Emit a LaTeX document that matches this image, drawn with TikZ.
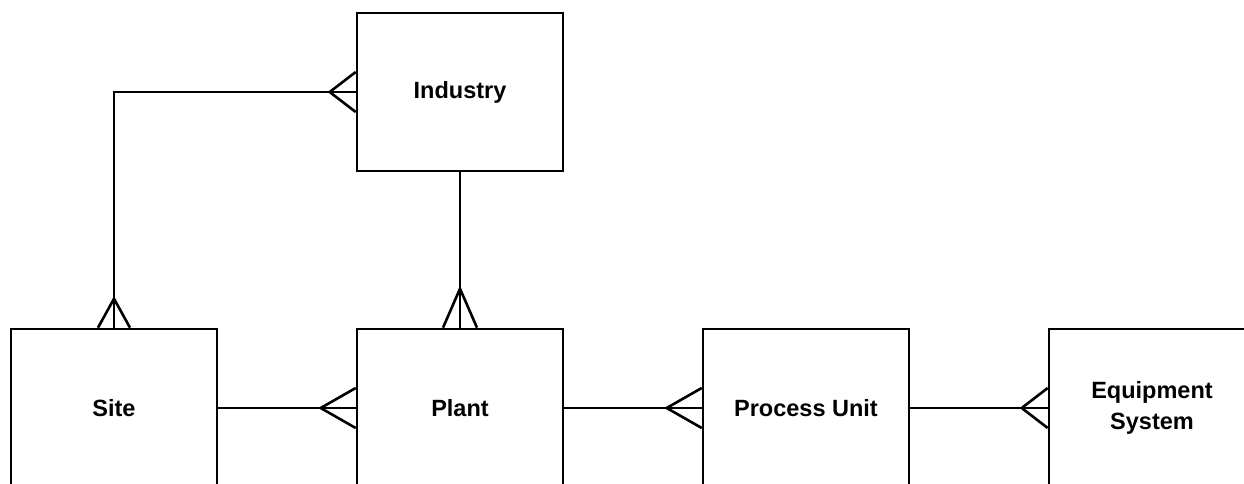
\documentclass[tikz,border=0pt]{standalone}
\usepackage{fontspec}
\setmainfont{Liberation Sans}
\usetikzlibrary{calc}
\tikzset{
  entity/.style={draw, line width=2.6pt, minimum width=206pt, minimum height=158pt,
    inner sep=0pt, align=center, font=\fontsize{23.5}{31}\selectfont\bfseries},
  link/.style={line width=2.6pt}
}
% crow's foot: anchor, tip offset, half-spread offset
\newcommand\crowfoot[3]{%
  \draw[link] ($(#1)+(#2)$) -- ($(#1)+(#3)$)
              ($(#1)+(#2)$) -- ($(#1)-(#3)$);}
\begin{document}
\begin{tikzpicture}[x=1pt,y=-1pt]
\useasboundingbox (0,0) rectangle (1244,483);
\clip (0,0) rectangle (1244,483);

\node[entity] (industry) at (460,92)   {Industry};
\node[entity] (site)     at (114,408)  {Site};
\node[entity] (plant)    at (460,408)  {Plant};
\node[entity] (unit)     at (806,408)  {Process Unit};
\node[entity] (equip)    at (1152,408) {Equipment\\System};

\coordinate (bend) at (site.north |- industry.west);
\draw[link] (site.north) -- (bend) -- (industry.west);
\draw[link] (industry.south) -- (plant.north);
\draw[link] (site.east) -- (plant.west);
\draw[link] (plant.east) -- (unit.west);
\draw[link] (unit.east) -- (equip.west);

\crowfoot{industry.west}{-26,0}{0,20}
\crowfoot{site.north}{0,-29}{16,0}
\crowfoot{plant.north}{0,-39}{17,0}
\crowfoot{plant.west}{-35,0}{0,20}
\crowfoot{unit.west}{-35,0}{0,20}
\crowfoot{equip.west}{-26,0}{0,20}
\end{tikzpicture}
\end{document}
